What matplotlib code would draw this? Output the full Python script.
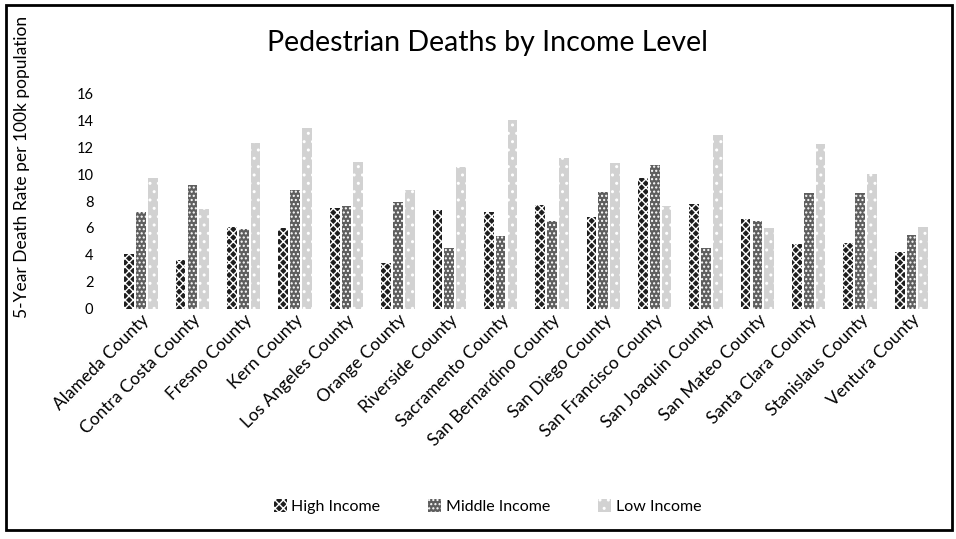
import numpy as np
import matplotlib
matplotlib.use("Agg")
import matplotlib.pyplot as plt
from matplotlib.patches import Rectangle

plt.rcParams['font.family'] = ['Lato', 'DejaVu Sans']

counties = ["Alameda County", "Contra Costa County", "Fresno County", "Kern County",
            "Los Angeles County", "Orange County", "Riverside County",
            "Sacramento County", "San Bernardino County", "San Diego County",
            "San Francisco County", "San Joaquin County", "San Mateo County",
            "Santa Clara County", "Stanislaus County", "Ventura County"]

high_income = [4.1, 3.6, 6.1, 6.0, 7.5, 3.4, 7.3, 7.2, 7.7, 6.8, 9.7, 7.8, 6.7, 4.8, 4.9, 4.2]
middle_income = [7.2, 9.2, 5.9, 8.8, 7.6, 7.9, 4.5, 5.4, 6.5, 8.7, 10.7, 4.5, 6.5, 8.6, 8.6, 5.5]
low_income = [9.7, 7.4, 12.3, 13.4, 10.9, 8.8, 10.5, 14.0, 11.2, 10.8, 7.6, 12.9, 6.0, 12.2, 10.0, 6.1]

series = [("High Income", high_income, "#1e1e1e", "xxxx"),
          ("Middle Income", middle_income, "#5e5e5e", "...."),
          ("Low Income", low_income, "#d2d2d2", "..")]

fig = plt.figure(figsize=(9.56, 5.39), dpi=100)
ax = fig.add_axes([0.118, 0.427, 0.865, 0.40])

x = np.arange(len(counties))
width = 0.19
step = 0.23
for i, (name, vals, col, hatch) in enumerate(series):
    ax.bar(x + (i - 1) * step, vals, width, color=col, label=name,
           hatch=hatch, edgecolor="white", linewidth=0)

ax.set_xlim(-0.55, len(counties) - 0.45)
ax.set_ylim(0, 16)
ax.set_yticks(range(0, 17, 2))
ax.tick_params(axis="y", length=0, labelsize=10.5, pad=14)
ax.tick_params(axis="x", length=0, labelsize=12.5, pad=2)
ax.set_xticks(x)
ax.set_xticklabels(counties, rotation=45, ha="right", rotation_mode="anchor")
for s in ax.spines.values():
    s.set_visible(False)

ax.set_ylabel("5-Year Death Rate per 100k population", fontsize=12.5)
ax.yaxis.set_label_coords(-0.1, 0.66)
fig.suptitle("Pedestrian Deaths by Income Level", fontsize=20.5, x=0.51, y=0.945)

fig.legend(loc="center", bbox_to_anchor=(0.51, 0.06), ncol=3, frameon=False,
           fontsize=11.5, handlelength=0.8, handleheight=0.8, columnspacing=3.0,
           handletextpad=0.3)

# page frame from the scanned document
fig.patches.append(Rectangle((0.006, 0.016), 0.99, 0.975, transform=fig.transFigure,
                             fill=False, edgecolor="black", linewidth=2))

fig.savefig("out.png", dpi=100)
